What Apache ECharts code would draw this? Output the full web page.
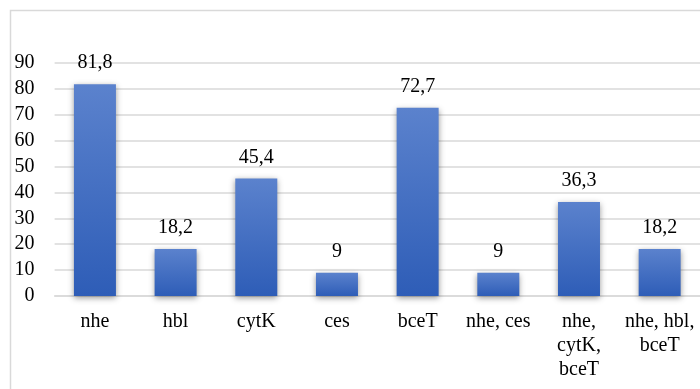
<!DOCTYPE html>
<html>
<head>
<meta charset="utf-8">
<script src="https://cdn.jsdelivr.net/npm/echarts@6/dist/echarts.min.js"></script>
<style>
  html, body { margin: 0; padding: 0; background: #ffffff; }
  #chart { width: 700px; height: 389px; }
</style>
</head>
<body>
<div id="chart"></div>
<script>
// Gene combinations and their share (%)
const categories = ['nhe', 'hbl', 'cytK', 'ces', 'bceT', 'nhe, ces', 'nhe,\ncytK,\nbceT', 'nhe, hbl,\nbceT'];
const values = [81.8, 18.2, 45.4, 9, 72.7, 9, 36.3, 18.2];
const yMin = 0;
const yMax = 90;
const yStep = 10;

const font = '"Liberation Serif", "Times New Roman", serif';
const chart = echarts.init(document.getElementById('chart'), null, { renderer: 'canvas' });

chart.setOption({
  animation: false,
  backgroundColor: '#ffffff',
  graphic: [{
    type: 'rect',
    shape: { x: 10.5, y: 10.5, width: 720, height: 400 },
    style: { fill: 'none', stroke: '#d9d9d9', lineWidth: 1.5 },
    silent: true,
    z: -1
  }],
  grid: { left: 54.6, top: 63, width: 646.4, bottom: 93, containLabel: false },
  xAxis: {
    type: 'category',
    data: categories,
    axisLine: { show: true, lineStyle: { color: '#d9d9d9', width: 1.5 } },
    axisTick: { show: false },
    axisLabel: {
      interval: 0,
      margin: 14,
      color: '#000000',
      fontFamily: font,
      fontSize: 20,
      lineHeight: 24
    },
    splitLine: { show: false }
  },
  yAxis: {
    type: 'value',
    min: yMin,
    max: yMax,
    interval: yStep,
    axisLine: { show: false },
    axisTick: { show: false },
    axisLabel: {
      margin: 20,
      color: '#000000',
      fontFamily: font,
      fontSize: 20
    },
    splitLine: { show: true, lineStyle: { color: '#d9d9d9', width: 1.5 } }
  },
  series: [{
    type: 'bar',
    data: values,
    barWidth: 42,
    itemStyle: {
      color: new echarts.graphic.LinearGradient(0, 0, 0, 1, [
        { offset: 0, color: '#5b82cd' },
        { offset: 1, color: '#2e5db7' }
      ]),
      shadowBlur: 6,
      shadowColor: 'rgba(0,0,0,0.4)',
      shadowOffsetY: 2
    },
    label: {
      show: true,
      position: 'top',
      distance: 11,
      color: '#000000',
      fontFamily: font,
      fontSize: 20,
      formatter: p => String(p.value).replace('.', ',')
    }
  }]
});
</script>
</body>
</html>
